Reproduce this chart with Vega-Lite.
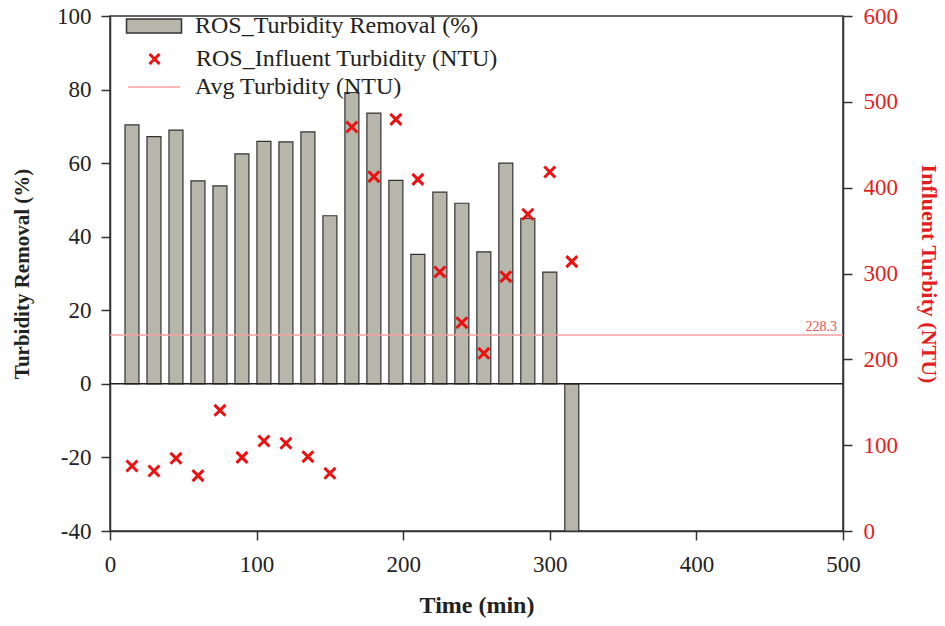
{
  "$schema": "https://vega.github.io/schema/vega-lite/v6.json",
  "width": 733,
  "height": 515,
  "autosize": {"type": "none"},
  "padding": {"left": 110, "top": 16, "right": 102, "bottom": 95},
  "background": "white",
  "config": {
    "view": {"stroke": "#333", "strokeWidth": 1.5},
    "font": "Liberation Serif",
    "axis": {
      "labelFont": "Liberation Serif",
      "labelFontSize": 23,
      "titleFont": "Liberation Serif",
      "titleFontSize": 21,
      "titleFontWeight": "bold",
      "labelColor": "#222",
      "titleColor": "#222",
      "domainColor": "#333",
      "domainWidth": 1.5,
      "tickColor": "#333",
      "tickWidth": 1.5,
      "tickSize": 9,
      "labelFlush": false,
      "grid": false
    },
    "legend": {
      "title": null,
      "orient": "none",
      "padding": 0,
      "labelFont": "Liberation Serif",
      "labelFontSize": 24,
      "labelColor": "#222",
      "labelLimit": 500
    }
  },
  "datasets": {
    "obs": [
      {"t": 15, "removal": 70.4, "influent": 75.7},
      {"t": 30, "removal": 67.2, "influent": 69.9},
      {"t": 45, "removal": 69.0, "influent": 84.7},
      {"t": 60, "removal": 55.2, "influent": 64.5},
      {"t": 75, "removal": 53.8, "influent": 140.6},
      {"t": 90, "removal": 62.5, "influent": 85.8},
      {"t": 105, "removal": 65.9, "influent": 104.9},
      {"t": 120, "removal": 65.8, "influent": 102.2},
      {"t": 135, "removal": 68.5, "influent": 86.6},
      {"t": 150, "removal": 45.7, "influent": 67.2},
      {"t": 165, "removal": 79.2, "influent": 470.7},
      {"t": 180, "removal": 73.6, "influent": 412.8},
      {"t": 195, "removal": 55.3, "influent": 479.6},
      {"t": 210, "removal": 35.2, "influent": 409.7},
      {"t": 225, "removal": 52.1, "influent": 301.8},
      {"t": 240, "removal": 49.1, "influent": 242.7},
      {"t": 255, "removal": 35.9, "influent": 207.0},
      {"t": 270, "removal": 60.0, "influent": 296.3},
      {"t": 285, "removal": 45.0, "influent": 369.0},
      {"t": 300, "removal": 30.4, "influent": 418.3},
      {"t": 315, "removal": -40, "influent": 313.8}
    ],
    "avg": [{"label": "Avg Turbidity (NTU)", "value": 228.3, "zero": 0, "tmax": 500}]
  },
  "layer": [
    {
      "layer": [
        {
          "data": {"name": "obs"},
          "mark": {"type": "bar", "size": 14, "fill": "#b6b6aa", "stroke": "#333", "strokeWidth": 1.2},
          "encoding": {
            "x": {
              "field": "t",
              "type": "quantitative",
              "scale": {"domain": [0, 500], "nice": false, "padding": 0},
              "axis": {"title": "Time (min)", "titleFontSize": 24, "values": [0, 100, 200, 300, 400, 500], "labelPadding": 13, "titlePadding": 17}
            },
            "y": {
              "field": "removal",
              "type": "quantitative",
              "scale": {"domain": [-40, 100], "nice": false},
              "axis": {"title": "Turbidity Removal (%)", "orient": "left", "values": [-40, -20, 0, 20, 40, 60, 80, 100], "labelExpr": "datum.value < 0 ? '-' + abs(datum.value) : '' + datum.value", "labelPadding": 10, "titlePadding": 24}
            },
            "fill": {
              "datum": "ROS_Turbidity Removal (%)",
              "scale": {"range": ["#b6b6aa"]},
              "legend": {
                "legendX": 32,
                "legendY": -2,
                "symbolSize": 400,
                "symbolType": "M-2.75,-0.7H2.75V0.7H-2.75Z",
                "symbolStrokeColor": "#333",
                "symbolStrokeWidth": 1.5,
                "labelOffset": 29
              }
            }
          }
        },
        {
          "data": {"name": "avg"},
          "mark": {"type": "rule", "color": "#222", "strokeWidth": 1.5},
          "encoding": {"y": {"field": "zero", "type": "quantitative"}}
        }
      ]
    },
    {
      "layer": [
        {
          "data": {"name": "avg"},
          "mark": {"type": "rule", "strokeWidth": 1.5},
          "encoding": {
            "y": {"field": "value", "type": "quantitative"},
            "stroke": {
              "field": "label",
              "type": "nominal",
              "scale": {"range": ["#f5a0a0"]},
              "legend": {
                "legendX": 32,
                "legendY": 59,
                "symbolSize": 400,
                "symbolType": "M-2.6,0H2.6",
                "symbolStrokeWidth": 1.5,
                "labelOffset": 29
              }
            }
          }
        },
        {
          "data": {"name": "avg"},
          "mark": {"type": "text", "align": "right", "baseline": "bottom", "dx": -6, "dy": -1, "fontSize": 14, "color": "#ec5050", "font": "Liberation Serif"},
          "encoding": {
            "x": {"field": "tmax", "type": "quantitative"},
            "y": {"field": "value", "type": "quantitative"},
            "text": {"field": "value", "type": "quantitative", "format": ".1f"}
          }
        },
        {
          "data": {"name": "obs"},
          "mark": {"type": "point", "filled": false, "color": "#ee1111", "strokeWidth": 3, "size": 120, "opacity": 1},
          "encoding": {
            "x": {"field": "t", "type": "quantitative"},
            "y": {
              "field": "influent",
              "type": "quantitative",
              "scale": {"domain": [0, 600], "nice": false},
              "axis": {"title": "Influent Turbity (NTU)", "titleFontSize": 22, "orient": "right", "values": [0, 100, 200, 300, 400, 500, 600], "labelColor": "#e41e1e", "titleColor": "#e41e1e", "labelPadding": 11, "titlePadding": 19}
            },
            "shape": {
              "datum": "ROS_Influent Turbidity (NTU)",
              "scale": {"range": ["M-1,-1L1,1M-1,1L1,-1"]},
              "legend": {
                "legendX": 32.5,
                "legendY": 31,
                "symbolSize": 100,
                "symbolStrokeWidth": 3,
                "labelOffset": 29.5
              }
            }
          }
        }
      ]
    }
  ],
  "resolve": {"scale": {"y": "independent"}}
}
